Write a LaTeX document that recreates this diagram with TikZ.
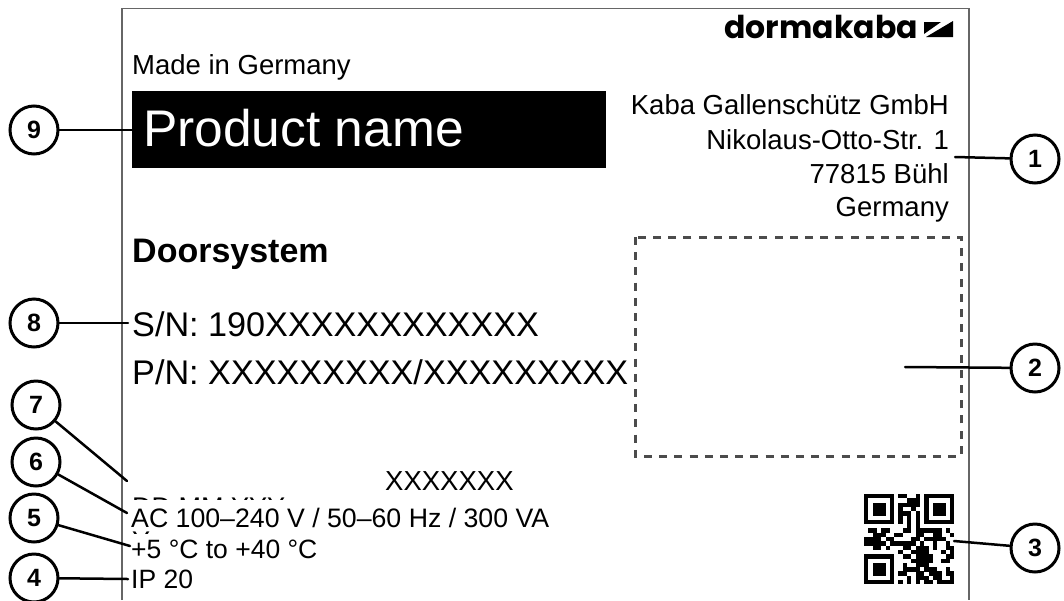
\documentclass[tikz,border=0pt]{standalone}
\usepackage{fontspec}
\setmainfont{Liberation Sans}
\newfontfamily\logofont{Poppins}
\newcommand{\fs}[1]{\fontsize{#1}{#1}\selectfont}
\tikzset{
    callout/.style={circle,draw,line width=3pt,minimum size=48pt,inner sep=0pt,fill=white,font=\fs{25}\bfseries},
    leader/.style={line width=2.5pt,line cap=round},
    lbl/.style={inner sep=0pt,anchor=base west,font=\fs{#1}},
    rlbl/.style={inner sep=0pt,anchor=base east,font=\fs{27.5}}
}

\begin{document}
\begin{tikzpicture}[x=1pt,y=-1pt]
    \useasboundingbox (0,0) rectangle (1064,600);
    % label outline
    \draw[line width=1.5pt,color=black!60] (122,600) -- (122,8.5) -- (969,8.5) -- (969,600);
    % logo
    \node[inner sep=0pt,anchor=base east,font=\logofont\fs{31.5}\bfseries] (logo) at (918,38) {dormakaba};
    \fill (926,37) -- (953,21) -- (953,37) -- cycle;
    \fill (924,22) -- (941,22) -- (924,34) -- cycle;
    % texts
    \node[lbl=27.5] (made) at (132,74) {Made in Germany};
    \node[fill=black,inner sep=0pt,minimum width=474pt,minimum height=77pt,anchor=north west] (namebox) at (132,91) {};
    \node[lbl=51.5,text=white] (name) at (143,146) {Product name};
    \foreach \y/\n/\t in {114/r1/Kaba Gallenschütz GmbH, 149/r2/Nikolaus-Otto-Str. 1, 183/r3/77815 Bühl, 216/r4/Germany}
    \node[rlbl] (\n) at (949,\y) {\t};
    \node[lbl=34] (door) at (132,262) {\bfseries Doorsystem};
    \node[lbl=34.2] (sn) at (132,336) {S/N: 190XXXXXXXXXXXX};
    \node[lbl=34.2] (pn) at (132,384) {P/N: XXXXXXXXX/XXXXXXXXX};
    \draw[line width=3pt,color=black!70,dash pattern=on 8pt off 7.2pt] (635,237) rectangle (961,456);
    \node[lbl=27.5] (xx) at (385,490) {XXXXXXX};
    % date is covered by the lines below it
    \node[lbl=27] (date) at (132,516) {DD MM YYY};
    \node[lbl=27] (datey) at (132,550) {Y};
    \fill[white] (131,500) rectangle (300,531);
    \fill[white] (131,534) rectangle (180,570);
    \node[lbl=26.7] (ac) at (131,527) {AC 100--240 V / 50--60 Hz / 300 VA};
    \node[lbl=26.5] (temp) at (131,558) {+5 °C to +40 °C};
    \node[lbl=26.5] (ip) at (131,588) {IP 20};
    % qr code
    \foreach \r/\cs in {0/{0,...,6,8,9,12,14,15,...,20}, 1/{0,6,10,11,12,14,20}, 2/{0,2,3,4,6,8,9,10,11,12,14,16,17,18,20},
        3/{0,2,3,4,6,8,11,14,16,17,18,20}, 4/{0,2,3,4,6,8,9,10,12,14,16,17,18,20}, 5/{0,6,8,10,12,14,20},
        6/{0,...,6,8,10,12,14,15,...,20}, 7/{10,12}, 8/{1,2,4,5,9,10,12,13,14,15,16,17,19}, 9/{2,3,4,7,8,12,13,16,17,20},
        10/{0,1,2,3,5,6,11,12,14,15,16,17,18}, 11/{0,1,2,3,4,6,7,8,9,10,11,13,16,19}, 12/{2,3,5,9,10,12,13,14,16,19,20},
        13/{8,11,12,13,14,18,20}, 14/{0,...,6,9,10,12,13,14,15,19,20}, 15/{0,6,11,12,13,14,15,18,19},
        16/{0,2,3,4,6,9,12,13,14}, 17/{0,2,3,4,6,9,10,11,12,14,15,16,19}, 18/{0,2,3,4,6,8,9,12,13,15,16,17,19,20},
        19/{0,6,10,12,13,14,16,17,20}, 20/{0,...,6,8,10,12,14,15,17,18,19,20}}
    \foreach \c in \cs
    \fill (864+4.3*\c,494+4.3*\r) rectangle ++(4.4,4.4);
    % callouts
    \foreach \x/\y/\n/\t in {1035/159/c1/1, 1035/368/c2/2, 1035/548/c3/3, 34/578/c4/4, 34/518/c5/5, 36/462/c6/6, 36/405/c7/7, 34/323/c8/8, 34/130/c9/9}
    \node[callout] (\n) at (\x,\y) {\t};
    \foreach \x/\y/\n in {955/157/e1, 905/367/e2, 954/541/e3, 128/579/e4, 130/546/e5, 127/513/e6, 127/481/e7, 128/323/e8, 137/130/e9}
    \coordinate (\n) at (\x,\y);
    \foreach \s/\t in {c1/e1, c2/e2, c3/e3, c4/e4, c5/e5, c6/e6, c7/e7, c8/e8, c9/e9}
    \draw[leader] (\s) -- (\t);
\end{tikzpicture}
\end{document}
